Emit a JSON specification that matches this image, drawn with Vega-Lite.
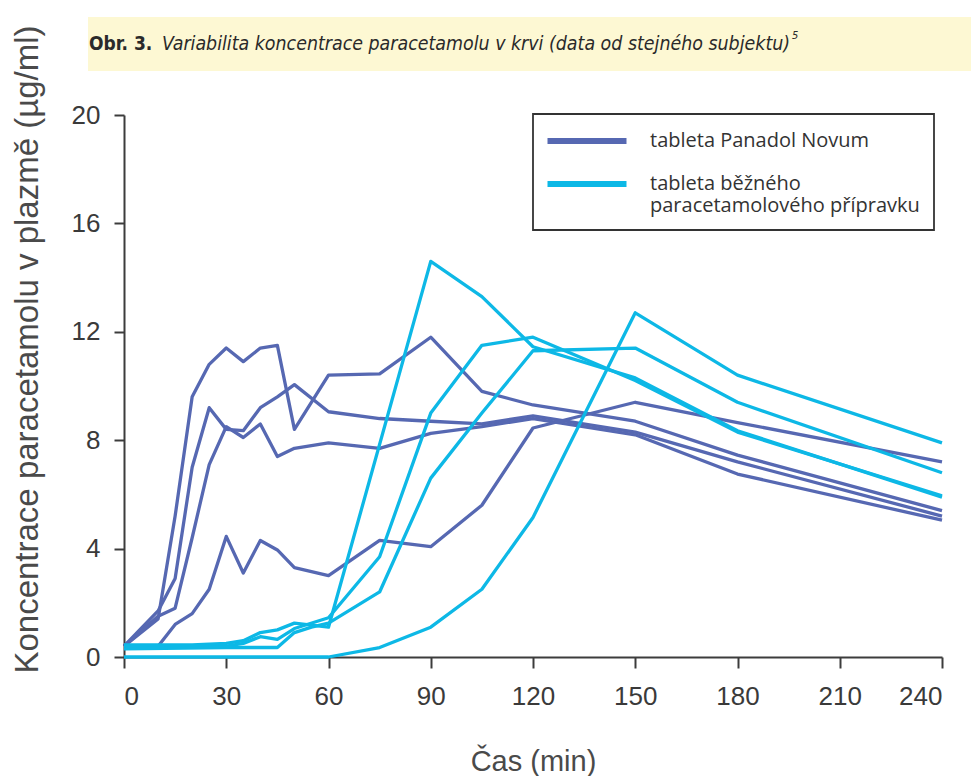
{
  "$schema": "https://vega.github.io/schema/vega-lite/v6.json",
  "padding": {"left": 10, "top": 17, "right": 0, "bottom": 0},
  "bounds": "flush",
  "spacing": 44,
  "config": {"view": {"stroke": null}, "font": "Liberation Sans"},
  "vconcat": [
    {
      "width": 883,
      "height": 54,
      "view": {"fill": "#FDF8D3", "stroke": null},
      "data": {"values": [{"a": "Obr. 3.", "b": "Variabilita koncentrace paracetamolu v krvi (data od stejného subjektu)", "n": "5"}]},
      "layer": [
        {"mark": {"type": "text", "x": 1, "y": 27, "align": "left", "baseline": "middle", "font": "Liberation Sans Narrow, DejaVu Sans Condensed, Liberation Sans", "fontWeight": "bold", "fontSize": 19, "color": "#2a2a2a"}, "encoding": {"text": {"field": "a"}}},
        {"mark": {"type": "text", "x": 74, "y": 27, "align": "left", "baseline": "middle", "font": "Liberation Sans Narrow, DejaVu Sans Condensed, Liberation Sans", "fontStyle": "italic", "fontSize": 19.4, "color": "#2a2a2a"}, "encoding": {"text": {"field": "b"}}},
        {"mark": {"type": "text", "x": 704, "y": 19, "align": "left", "baseline": "middle", "font": "Liberation Sans Narrow, DejaVu Sans Condensed, Liberation Sans", "fontStyle": "italic", "fontSize": 11, "color": "#2a2a2a"}, "encoding": {"text": {"field": "n"}}}
      ]
    },
    {
      "bounds": "flush",
      "spacing": 0,
      "hconcat": [
        {
          "width": 36,
          "height": 10,
          "view": {"stroke": null},
          "data": {"values": [{"e": ""}]},
          "mark": {"type": "text"},
          "encoding": {"text": {"field": "e"}}
        },
        {
          "width": 818,
          "height": 542,
          "data": {"values": [
            {"s":"N1","p":"tableta Panadol Novum","t":0,"c":0.4},
            {"s":"N1","p":"tableta Panadol Novum","t":10,"c":1.4},
            {"s":"N1","p":"tableta Panadol Novum","t":15,"c":5.2},
            {"s":"N1","p":"tableta Panadol Novum","t":20,"c":9.6},
            {"s":"N1","p":"tableta Panadol Novum","t":25,"c":10.8},
            {"s":"N1","p":"tableta Panadol Novum","t":30,"c":11.4},
            {"s":"N1","p":"tableta Panadol Novum","t":35,"c":10.9},
            {"s":"N1","p":"tableta Panadol Novum","t":40,"c":11.4},
            {"s":"N1","p":"tableta Panadol Novum","t":45,"c":11.5},
            {"s":"N1","p":"tableta Panadol Novum","t":50,"c":8.4},
            {"s":"N1","p":"tableta Panadol Novum","t":60,"c":10.4},
            {"s":"N1","p":"tableta Panadol Novum","t":75,"c":10.45},
            {"s":"N1","p":"tableta Panadol Novum","t":90,"c":11.8},
            {"s":"N1","p":"tableta Panadol Novum","t":105,"c":9.8},
            {"s":"N1","p":"tableta Panadol Novum","t":120,"c":9.3},
            {"s":"N1","p":"tableta Panadol Novum","t":150,"c":8.7},
            {"s":"N1","p":"tableta Panadol Novum","t":180,"c":7.45},
            {"s":"N1","p":"tableta Panadol Novum","t":240,"c":5.4},
            {"s":"N2","p":"tableta Panadol Novum","t":0,"c":0.4},
            {"s":"N2","p":"tableta Panadol Novum","t":10,"c":1.7},
            {"s":"N2","p":"tableta Panadol Novum","t":15,"c":2.9},
            {"s":"N2","p":"tableta Panadol Novum","t":20,"c":7.0},
            {"s":"N2","p":"tableta Panadol Novum","t":25,"c":9.2},
            {"s":"N2","p":"tableta Panadol Novum","t":30,"c":8.4},
            {"s":"N2","p":"tableta Panadol Novum","t":35,"c":8.35},
            {"s":"N2","p":"tableta Panadol Novum","t":40,"c":9.2},
            {"s":"N2","p":"tableta Panadol Novum","t":45,"c":9.6},
            {"s":"N2","p":"tableta Panadol Novum","t":50,"c":10.05},
            {"s":"N2","p":"tableta Panadol Novum","t":60,"c":9.05},
            {"s":"N2","p":"tableta Panadol Novum","t":75,"c":8.8},
            {"s":"N2","p":"tableta Panadol Novum","t":90,"c":8.7},
            {"s":"N2","p":"tableta Panadol Novum","t":105,"c":8.6},
            {"s":"N2","p":"tableta Panadol Novum","t":120,"c":8.9},
            {"s":"N2","p":"tableta Panadol Novum","t":150,"c":8.3},
            {"s":"N2","p":"tableta Panadol Novum","t":180,"c":7.2},
            {"s":"N2","p":"tableta Panadol Novum","t":240,"c":5.2},
            {"s":"N3","p":"tableta Panadol Novum","t":0,"c":0.4},
            {"s":"N3","p":"tableta Panadol Novum","t":10,"c":1.5},
            {"s":"N3","p":"tableta Panadol Novum","t":15,"c":1.8},
            {"s":"N3","p":"tableta Panadol Novum","t":20,"c":4.4},
            {"s":"N3","p":"tableta Panadol Novum","t":25,"c":7.1},
            {"s":"N3","p":"tableta Panadol Novum","t":30,"c":8.5},
            {"s":"N3","p":"tableta Panadol Novum","t":35,"c":8.1},
            {"s":"N3","p":"tableta Panadol Novum","t":40,"c":8.6},
            {"s":"N3","p":"tableta Panadol Novum","t":45,"c":7.4},
            {"s":"N3","p":"tableta Panadol Novum","t":50,"c":7.7},
            {"s":"N3","p":"tableta Panadol Novum","t":60,"c":7.9},
            {"s":"N3","p":"tableta Panadol Novum","t":75,"c":7.7},
            {"s":"N3","p":"tableta Panadol Novum","t":90,"c":8.25},
            {"s":"N3","p":"tableta Panadol Novum","t":105,"c":8.5},
            {"s":"N3","p":"tableta Panadol Novum","t":120,"c":8.8},
            {"s":"N3","p":"tableta Panadol Novum","t":150,"c":8.2},
            {"s":"N3","p":"tableta Panadol Novum","t":180,"c":6.75},
            {"s":"N3","p":"tableta Panadol Novum","t":240,"c":5.05},
            {"s":"N4","p":"tableta Panadol Novum","t":0,"c":0.4},
            {"s":"N4","p":"tableta Panadol Novum","t":10,"c":0.4},
            {"s":"N4","p":"tableta Panadol Novum","t":15,"c":1.2},
            {"s":"N4","p":"tableta Panadol Novum","t":20,"c":1.6},
            {"s":"N4","p":"tableta Panadol Novum","t":25,"c":2.5},
            {"s":"N4","p":"tableta Panadol Novum","t":30,"c":4.45},
            {"s":"N4","p":"tableta Panadol Novum","t":35,"c":3.1},
            {"s":"N4","p":"tableta Panadol Novum","t":40,"c":4.3},
            {"s":"N4","p":"tableta Panadol Novum","t":45,"c":3.95},
            {"s":"N4","p":"tableta Panadol Novum","t":50,"c":3.3},
            {"s":"N4","p":"tableta Panadol Novum","t":60,"c":3.0},
            {"s":"N4","p":"tableta Panadol Novum","t":75,"c":4.3},
            {"s":"N4","p":"tableta Panadol Novum","t":90,"c":4.07},
            {"s":"N4","p":"tableta Panadol Novum","t":105,"c":5.6},
            {"s":"N4","p":"tableta Panadol Novum","t":120,"c":8.45},
            {"s":"N4","p":"tableta Panadol Novum","t":150,"c":9.4},
            {"s":"N4","p":"tableta Panadol Novum","t":180,"c":8.65},
            {"s":"N4","p":"tableta Panadol Novum","t":240,"c":7.2},
            {"s":"A","p":"tableta běžného paracetamolového přípravku","t":0,"c":0.45},
            {"s":"A","p":"tableta běžného paracetamolového přípravku","t":10,"c":0.45},
            {"s":"A","p":"tableta běžného paracetamolového přípravku","t":20,"c":0.45},
            {"s":"A","p":"tableta běžného paracetamolového přípravku","t":30,"c":0.5},
            {"s":"A","p":"tableta běžného paracetamolového přípravku","t":35,"c":0.6},
            {"s":"A","p":"tableta běžného paracetamolového přípravku","t":40,"c":0.9},
            {"s":"A","p":"tableta běžného paracetamolového přípravku","t":45,"c":1.0},
            {"s":"A","p":"tableta běžného paracetamolového přípravku","t":50,"c":1.25},
            {"s":"A","p":"tableta běžného paracetamolového přípravku","t":60,"c":1.1},
            {"s":"A","p":"tableta běžného paracetamolového přípravku","t":90,"c":14.6},
            {"s":"A","p":"tableta běžného paracetamolového přípravku","t":105,"c":13.3},
            {"s":"A","p":"tableta běžného paracetamolového přípravku","t":120,"c":11.45},
            {"s":"A","p":"tableta běžného paracetamolového přípravku","t":150,"c":10.3},
            {"s":"A","p":"tableta běžného paracetamolového přípravku","t":180,"c":8.35},
            {"s":"A","p":"tableta běžného paracetamolového přípravku","t":240,"c":5.9},
            {"s":"B","p":"tableta běžného paracetamolového přípravku","t":0,"c":0.4},
            {"s":"B","p":"tableta běžného paracetamolového přípravku","t":30,"c":0.4},
            {"s":"B","p":"tableta běžného paracetamolového přípravku","t":35,"c":0.5},
            {"s":"B","p":"tableta běžného paracetamolového přípravku","t":40,"c":0.75},
            {"s":"B","p":"tableta běžného paracetamolového přípravku","t":45,"c":0.65},
            {"s":"B","p":"tableta běžného paracetamolového přípravku","t":50,"c":1.05},
            {"s":"B","p":"tableta běžného paracetamolového přípravku","t":60,"c":1.45},
            {"s":"B","p":"tableta běžného paracetamolového přípravku","t":75,"c":3.7},
            {"s":"B","p":"tableta běžného paracetamolového přípravku","t":90,"c":9.0},
            {"s":"B","p":"tableta běžného paracetamolového přípravku","t":105,"c":11.5},
            {"s":"B","p":"tableta běžného paracetamolového přípravku","t":120,"c":11.8},
            {"s":"B","p":"tableta běžného paracetamolového přípravku","t":150,"c":10.2},
            {"s":"B","p":"tableta běžného paracetamolového přípravku","t":180,"c":8.3},
            {"s":"B","p":"tableta běžného paracetamolového přípravku","t":240,"c":5.95},
            {"s":"C","p":"tableta běžného paracetamolového přípravku","t":0,"c":0.3},
            {"s":"C","p":"tableta běžného paracetamolového přípravku","t":30,"c":0.35},
            {"s":"C","p":"tableta běžného paracetamolového přípravku","t":45,"c":0.35},
            {"s":"C","p":"tableta běžného paracetamolového přípravku","t":50,"c":0.9},
            {"s":"C","p":"tableta běžného paracetamolového přípravku","t":55,"c":1.1},
            {"s":"C","p":"tableta běžného paracetamolového přípravku","t":60,"c":1.25},
            {"s":"C","p":"tableta běžného paracetamolového přípravku","t":75,"c":2.4},
            {"s":"C","p":"tableta běžného paracetamolového přípravku","t":90,"c":6.6},
            {"s":"C","p":"tableta běžného paracetamolového přípravku","t":105,"c":9.0},
            {"s":"C","p":"tableta běžného paracetamolového přípravku","t":120,"c":11.3},
            {"s":"C","p":"tableta běžného paracetamolového přípravku","t":150,"c":11.4},
            {"s":"C","p":"tableta běžného paracetamolového přípravku","t":180,"c":9.4},
            {"s":"C","p":"tableta běžného paracetamolového přípravku","t":240,"c":6.8},
            {"s":"D","p":"tableta běžného paracetamolového přípravku","t":0,"c":0.0},
            {"s":"D","p":"tableta běžného paracetamolového přípravku","t":60,"c":0.0},
            {"s":"D","p":"tableta běžného paracetamolového přípravku","t":75,"c":0.35},
            {"s":"D","p":"tableta běžného paracetamolového přípravku","t":90,"c":1.1},
            {"s":"D","p":"tableta běžného paracetamolového přípravku","t":105,"c":2.5},
            {"s":"D","p":"tableta běžného paracetamolového přípravku","t":120,"c":5.15},
            {"s":"D","p":"tableta běžného paracetamolového přípravku","t":150,"c":12.7},
            {"s":"D","p":"tableta běžného paracetamolového přípravku","t":180,"c":10.4},
            {"s":"D","p":"tableta běžného paracetamolového přípravku","t":240,"c":7.9}
          ]},
          "mark": {"type": "line", "strokeWidth": 3.3, "strokeJoin": "round", "clip": false},
          "encoding": {
            "x": {
              "field": "t", "type": "quantitative",
              "scale": {"domain": [0, 240], "nice": false, "zero": false},
              "axis": {
                "values": [0, 30, 60, 90, 120, 150, 180, 210, 240],
                "title": "Čas (min)", "grid": false,
                "domainColor": "#3c3c3c", "domainWidth": 2,
                "tickColor": "#3c3c3c", "tickWidth": 2, "tickSize": 11,
                "labelFont": "Liberation Sans", "labelFontSize": 26, "labelColor": "#3a3a3a", "labelPadding": 15,
                "titleFont": "Liberation Sans", "titleFontSize": 29, "titleFontWeight": "normal", "titleColor": "#4a4a4a", "titlePadding": 38
              }
            },
            "y": {
              "field": "c", "type": "quantitative",
              "scale": {"domain": [0, 20], "nice": false},
              "axis": {
                "values": [0, 4, 8, 12, 16, 20],
                "title": "Koncentrace paracetamolu v plazmě (µg/ml)", "grid": false,
                "domainColor": "#3c3c3c", "domainWidth": 2,
                "tickColor": "#3c3c3c", "tickWidth": 2, "tickSize": 10,
                "labelFont": "Liberation Sans", "labelFontSize": 26, "labelColor": "#3a3a3a", "labelPadding": 14,
                "titleFont": "Liberation Sans", "titleFontSize": 33, "titleFontWeight": "normal", "titleColor": "#4a4a4a",
                "titleX": -80, "titleY": 234, "titleAngle": 270, "titleBaseline": "bottom", "titleAlign": "center"
              }
            },
            "color": {
              "field": "p", "type": "nominal",
              "scale": {"domain": ["tableta Panadol Novum", "tableta běžného paracetamolového přípravku"], "range": ["#5668B2", "#0DB8E6"]},
              "legend": {
                "orient": "none", "legendX": 445, "legendY": 97,
                "title": null, "symbolType": "M-4,0H4", "symbolSize": 390, "symbolStrokeWidth": 6,
                "symbolOffset": 27, "labelOffset": 50,
                "padding": 14, "fillColor": "white", "strokeColor": "#333",
                "labelFont": "Open Sans", "labelFontSize": 20, "labelColor": "#333", "labelLimit": 400, "rowPadding": 18,
                "labelExpr": "datum.label == 'tableta běžného paracetamolového přípravku' ? ['tableta běžného', 'paracetamolového přípravku'] : datum.label",
                "encode": {"legend": {"update": {"strokeWidth": {"value": 1.8}}}}
              }
            },
            "detail": {"field": "s"}
          }
        }
      ]
    }
  ]
}
